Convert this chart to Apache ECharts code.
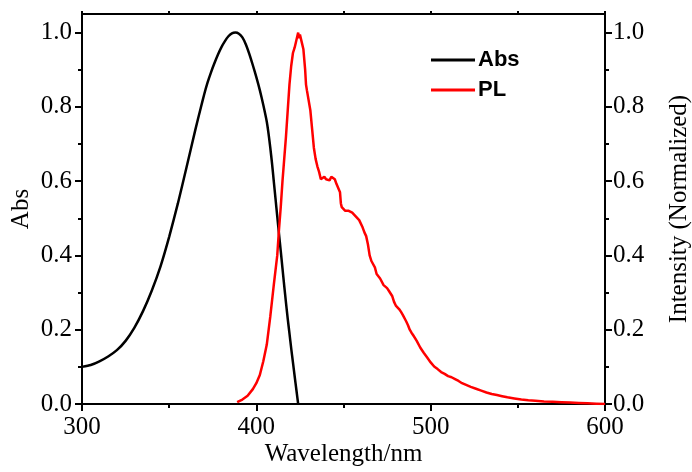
<!DOCTYPE html>
<html>
<head>
<meta charset="utf-8">
<script src="https://cdn.jsdelivr.net/npm/echarts@6/dist/echarts.min.js"></script>
<style>html,body{margin:0;padding:0;background:#fff;}#c{width:692px;height:472px;}</style>
</head>
<body>
<div id="c"></div>
<script>
// Absorbance (wavelength nm, normalized)
var absWavelength = [300,305,310,315,320,325,330,335,340,345,350,355,360,365,368,370,372,374,376,378,380,382,384,386,388,390,392,394,396,398,400,402,404,406,407,408,409,410,411,412,413,414,415,416,417,418,419,420,421,422,423,424];
var absValues     = [0.100,0.105,0.115,0.128,0.145,0.170,0.205,0.250,0.305,0.370,0.450,0.540,0.638,0.738,0.795,0.832,0.865,0.893,0.918,0.941,0.961,0.977,0.990,0.998,1.000,0.997,0.987,0.968,0.942,0.912,0.880,0.845,0.805,0.760,0.728,0.690,0.648,0.600,0.553,0.505,0.458,0.412,0.365,0.318,0.273,0.230,0.190,0.150,0.112,0.074,0.037,0.000];
// Photoluminescence (wavelength nm, normalized)
var plWavelength = [389,392,395,398,400,402,404,406,408,410,412,413,414,415,416,417,418,419,420,421,422,423,424,424.5,425,426,427,428,428.5,429,430,431,432,433,434,435,436,437,438,439,440,441,442,443,444,445,446,447,448,448.5,449,450,451,452,453,454,455,456,457,458,459,460,461,462,463,464,465,466,467,468,469,470,471,472,473,474,475,476,477,478,479,480,481,482,483,484,485,486,487,488,489,490,492,494,496,498,500,502,504,506,508,510,512,514,516,518,520,523,526,529,532,535,538,541,544,548,552,556,560,565,570,575,580,585,590,595,600];
var plValues     = [0.005,0.012,0.022,0.040,0.056,0.078,0.115,0.160,0.235,0.320,0.400,0.470,0.530,0.600,0.660,0.720,0.790,0.860,0.910,0.945,0.960,0.980,1.000,0.985,0.995,0.975,0.955,0.900,0.860,0.845,0.840,0.790,0.740,0.690,0.660,0.640,0.625,0.605,0.600,0.612,0.605,0.610,0.602,0.612,0.610,0.605,0.592,0.588,0.570,0.540,0.530,0.525,0.520,0.525,0.520,0.522,0.515,0.510,0.505,0.500,0.495,0.490,0.475,0.462,0.452,0.430,0.400,0.385,0.380,0.368,0.350,0.345,0.338,0.335,0.320,0.325,0.312,0.305,0.300,0.290,0.275,0.265,0.260,0.255,0.248,0.240,0.235,0.222,0.212,0.200,0.192,0.185,0.170,0.152,0.138,0.125,0.112,0.101,0.094,0.086,0.081,0.075,0.072,0.067,0.062,0.056,0.052,0.046,0.041,0.036,0.031,0.027,0.024,0.021,0.018,0.015,0.012,0.010,0.009,0.007,0.006,0.005,0.004,0.003,0.002,0.001,0.000];
var xTicks = [300,400,500,600];
var yMajorTicks = [0.0,0.2,0.4,0.6,0.8,1.0];
var yMinorTicks = [0.1,0.3,0.5,0.7,0.9];

function pairs(xs, ys){ return xs.map(function(x,i){ return [x, ys[i]]; }); }

var serif = 'Liberation Serif';
var lineStyle = {color:'#000', width:2};
var lbl = {color:'#000', fontFamily:serif, fontSize:25};

var chart = echarts.init(document.getElementById('c'), null, {renderer:'canvas'});
chart.setOption({
  animation:false,
  backgroundColor:'#fff',
  grid:{left:82, right:87, top:14, bottom:68, containLabel:false, outerBoundsMode:'none'},
  legend:{
    orient:'vertical', left:426, top:44, itemWidth:44, itemHeight:3, itemGap:8,
    textStyle:{fontFamily:'Liberation Sans', fontWeight:'bold', fontSize:22, color:'#000', padding:[0,0,0,-2]},
    data:[{name:'Abs', icon:'rect'},{name:'PL', icon:'rect'}]
  },
  xAxis:[
    {type:'value', position:'bottom', min:xTicks[0], max:xTicks[xTicks.length-1], interval:100,
     name:'Wavelength/nm', nameLocation:'middle', nameGap:38, nameMoveOverlap:false,
     nameTextStyle:{color:'#000', fontFamily:serif, fontSize:25},
     axisLine:{show:true, onZero:false, lineStyle:lineStyle},
     axisTick:{show:true, inside:false, length:7, lineStyle:lineStyle},
     minorTick:{show:true, splitNumber:2, length:4, lineStyle:lineStyle},
     axisLabel:Object.assign({margin:11}, lbl),
     splitLine:{show:false}},
    {type:'value', position:'top', min:xTicks[0], max:xTicks[xTicks.length-1], interval:100,
     axisLine:{show:true, onZero:false, lineStyle:lineStyle},
     axisTick:{show:true, inside:false, length:3, lineStyle:lineStyle},
     minorTick:{show:true, splitNumber:2, length:3, lineStyle:lineStyle},
     axisLabel:{show:false}, splitLine:{show:false}}
  ],
  yAxis:[
    {type:'value', position:'left', min:0, max:1.05,
     name:'Abs', nameLocation:'middle', nameGap:48, nameRotate:90, nameMoveOverlap:false,
     nameTextStyle:{color:'#000', fontFamily:serif, fontSize:25},
     axisLine:{show:true, onZero:false, lineStyle:lineStyle},
     axisTick:{show:true, inside:false, length:7, lineStyle:lineStyle, customValues:yMajorTicks},
     axisLabel:Object.assign({margin:10, customValues:yMajorTicks, formatter:function(v){return v.toFixed(1);}}, lbl),
     splitLine:{show:false}},
    {type:'value', position:'right', min:0, max:1.05,
     name:'Intensity (Normalized)', nameLocation:'middle', nameGap:62, nameRotate:90, nameMoveOverlap:false,
     nameTextStyle:{color:'#000', fontFamily:serif, fontSize:25},
     axisLine:{show:true, onZero:false, lineStyle:lineStyle},
     axisTick:{show:true, inside:false, length:7, lineStyle:lineStyle, customValues:yMajorTicks},
     axisLabel:Object.assign({margin:8, customValues:yMajorTicks, formatter:function(v){return v.toFixed(1);}}, lbl),
     splitLine:{show:false}},
    {type:'value', position:'left', min:0, max:1.05,
     axisLine:{show:false}, axisLabel:{show:false}, splitLine:{show:false},
     axisTick:{show:true, inside:false, length:4, lineStyle:lineStyle, customValues:yMinorTicks}},
    {type:'value', position:'right', min:0, max:1.05,
     axisLine:{show:false}, axisLabel:{show:false}, splitLine:{show:false},
     axisTick:{show:true, inside:false, length:4, lineStyle:lineStyle, customValues:yMinorTicks}}
  ],
  series:[
    {name:'Abs', type:'line', xAxisIndex:0, yAxisIndex:0, data:pairs(absWavelength, absValues),
     smooth:0.2, symbol:'none', showSymbol:false, color:'#000',
     lineStyle:{color:'#000', width:2.5}, itemStyle:{color:'#000'}},
    {name:'PL', type:'line', xAxisIndex:0, yAxisIndex:1, data:pairs(plWavelength, plValues),
     smooth:false, symbol:'none', showSymbol:false, color:'#ff0000',
     lineStyle:{color:'#ff0000', width:2.5}, itemStyle:{color:'#ff0000'}}
  ]
});
</script>
</body>
</html>
